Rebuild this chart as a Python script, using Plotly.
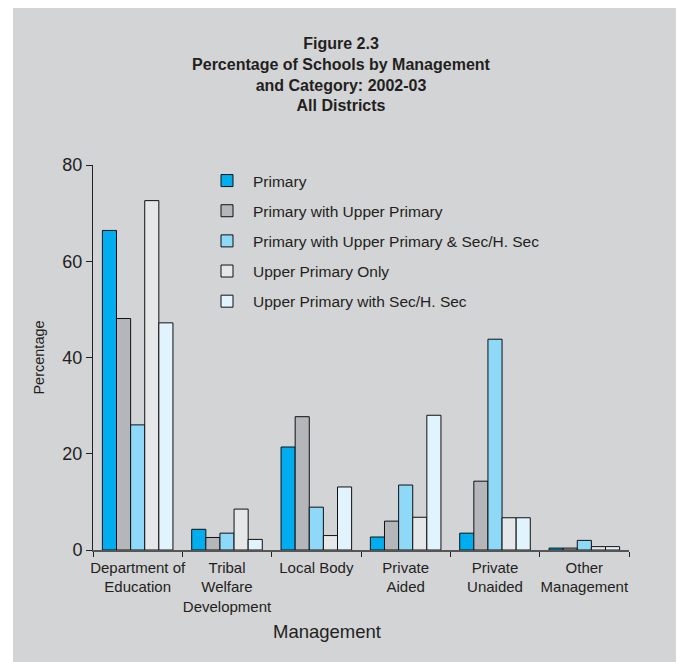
import plotly.graph_objects as go

categories = ["Department of<br>Education", "Tribal<br>Welfare<br>Development", "Local Body",
              "Private<br>Aided", "Private<br>Unaided", "Other<br>Management"]
series_names = ["Primary", "Primary with Upper Primary", "Primary with Upper Primary & Sec/H. Sec",
                "Upper Primary Only", "Upper Primary with Sec/H. Sec"]
primary = [66.4, 4.3, 21.4, 2.7, 3.5, 0.4]
primary_upper = [48.1, 2.6, 27.7, 6.0, 14.3, 0.4]
primary_upper_sec = [26.0, 3.5, 8.9, 13.5, 43.8, 2.0]
upper_only = [72.6, 8.5, 3.0, 6.8, 6.7, 0.7]
upper_sec = [47.2, 2.2, 13.1, 28.0, 6.7, 0.7]
colors = ["#00aeef", "#b4b6b9", "#8ed8f8", "#e6e7e8", "#e1f3fc"]
values = [primary, primary_upper, primary_upper_sec, upper_only, upper_sec]

FONT = "Liberation Sans, Arial, sans-serif"
TXT = "#231f20"

fig = go.Figure()
for i, (name, vals) in enumerate(zip(series_names, values)):
    fig.add_trace(go.Bar(
        x=categories, y=vals, name=name, legendgroup=f"g{i}",
        marker=dict(color=colors[i], line=dict(color="#111111", width=1)),
    ))

OFF = 8  # page body offset
W, H = 684 - OFF, 662 - OFF
L, T = 93 - OFF, 165 - OFF
R = W - (629 - OFF)
B = H - (550 - OFF)
pw, ph = W - L - R, H - T - B

def px_x(x):
    return (x - OFF - L) / pw

def px_y(y):
    return (H - B - (y - OFF)) / ph

fig.update_layout(
    width=W, height=H,
    margin=dict(l=L, r=R, t=T, b=B, pad=0),
    paper_bgcolor="white", plot_bgcolor="rgba(0,0,0,0)",
    barmode="group", bargap=0.21, bargroupgap=0,
    font=dict(family=FONT, color=TXT, size=14),
    title=dict(
        text="Figure 2.3<br>Percentage of Schools by Management<br>and Category: 2002-03<br>All Districts",
        x=px_x(341), xref="paper", xanchor="center", y=1 - 41 / H, yanchor="top",
        font=dict(family=FONT, size=16, color=TXT, weight="bold"),
    ),
    legend=dict(
        x=px_x(201), y=px_y(164), xanchor="left", yanchor="top",
        bgcolor="rgba(0,0,0,0)", font=dict(size=15.5, color=TXT, family=FONT),
        tracegroupgap=7, itemwidth=42,
    ),
    showlegend=True,
    shapes=[dict(type="rect", xref="paper", yref="paper",
                 x0=px_x(13), x1=px_x(700), y0=px_y(700), y1=px_y(4),
                 fillcolor="#d3d4d6", line=dict(width=0), layer="below")],
    annotations=[dict(text="Management", xref="paper", yref="paper",
                      x=px_x(327), y=px_y(631), xanchor="center", yanchor="middle",
                      showarrow=False, font=dict(size=18.5, color=TXT, family=FONT))],
)
fig.update_xaxes(
    showline=True, linecolor="#555555", linewidth=1.5,
    ticks="outside", tickson="boundaries", ticklen=5, tickcolor="#222222",
    tickangle=0, tickfont=dict(size=15, color=TXT), showgrid=False,
    ticklabelstandoff=3,
)
fig.update_yaxes(
    range=[0, 80], dtick=20, showline=True, linecolor="#222222", linewidth=1,
    ticks="outside", ticklen=6, tickcolor="#222222", showgrid=False, zeroline=False,
    tickfont=dict(size=18, color=TXT),
    title=dict(text="Percentage", font=dict(size=14.5, color=TXT), standoff=14),
)
fig.write_html("out.html")
